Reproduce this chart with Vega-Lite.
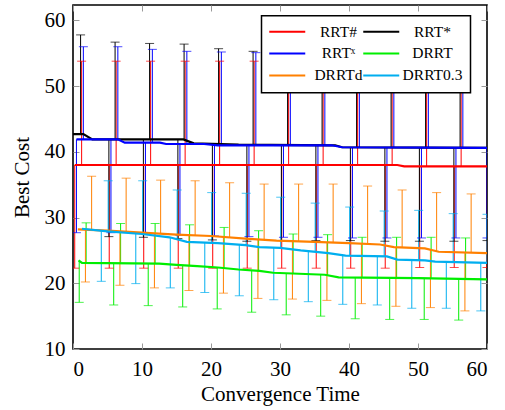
{
  "$schema": "https://vega.github.io/schema/vega-lite/v6.json",
  "width": 414,
  "height": 344,
  "autosize": {"type": "none"},
  "padding": {"left": 73, "top": 5, "right": 18, "bottom": 61},
  "background": "white",
  "config": {
    "view": {"stroke": "black", "strokeWidth": 1.6},
    "font": "Liberation Serif",
    "axis": {
      "domain": false, "grid": false,
      "tickColor": "#9a9a9a", "tickWidth": 1, "tickSize": -6,
      "labelFont": "Liberation Serif", "labelFontSize": 21, "labelColor": "black",
      "titleFont": "Liberation Serif", "titleFontSize": 21, "titleFontWeight": "normal", "titleColor": "black"
    },
    "legend": {
      "orient": "none", "legendX": 188.5, "legendY": 10.7, "columns": 2, "title": null,
      "symbolType": "M-3,0H3", "symbolSize": 144, "symbolStrokeWidth": 2, "symbolOffset": 10,
      "labelFont": "Liberation Serif", "labelFontSize": 15.5, "labelColor": "black",
      "labelAlign": "center", "labelOffset": 43.5, "columnPadding": -5, "rowPadding": 5,
      "padding": 8, "strokeColor": "black", "fillColor": "white"
    }
  },
  "datasets": {
    "lines": [
      {"s": "RRT#", "x": 0.25, "y": 38.0}, {"s": "RRT#", "x": 47.0, "y": 38.0}, {"s": "RRT#", "x": 48.0, "y": 37.8}, {"s": "RRT#", "x": 60, "y": 37.8},
      {"s": "RRT*", "x": 0, "y": 42.7}, {"s": "RRT*", "x": 1.5, "y": 42.7}, {"s": "RRT*", "x": 2.8, "y": 41.9}, {"s": "RRT*", "x": 16.0, "y": 41.9}, {"s": "RRT*", "x": 17.5, "y": 41.3}, {"s": "RRT*", "x": 24, "y": 41.1}, {"s": "RRT*", "x": 38, "y": 41.0}, {"s": "RRT*", "x": 39, "y": 40.7}, {"s": "RRT*", "x": 60, "y": 40.6},
      {"s": "RRTX", "x": 0.5, "y": 41.9}, {"s": "RRTX", "x": 6.5, "y": 41.9}, {"s": "RRTX", "x": 7.5, "y": 41.4}, {"s": "RRTX", "x": 12.6, "y": 41.4}, {"s": "RRTX", "x": 13.5, "y": 41.2}, {"s": "RRTX", "x": 19, "y": 41.2}, {"s": "RRTX", "x": 21, "y": 41.0}, {"s": "RRTX", "x": 37.5, "y": 41.0}, {"s": "RRTX", "x": 39, "y": 40.7}, {"s": "RRTX", "x": 60, "y": 40.6},
      {"s": "DRRT", "x": 0.8, "y": 23.5}, {"s": "DRRT", "x": 1.3, "y": 23.1}, {"s": "DRRT", "x": 12.5, "y": 23.0}, {"s": "DRRT", "x": 15, "y": 22.8}, {"s": "DRRT", "x": 18, "y": 22.6}, {"s": "DRRT", "x": 21, "y": 22.4}, {"s": "DRRT", "x": 24, "y": 22.1}, {"s": "DRRT", "x": 27, "y": 21.9}, {"s": "DRRT", "x": 29, "y": 21.6}, {"s": "DRRT", "x": 36.5, "y": 21.3}, {"s": "DRRT", "x": 38.5, "y": 20.9}, {"s": "DRRT", "x": 50, "y": 20.8}, {"s": "DRRT", "x": 60, "y": 20.6},
      {"s": "DRRTd", "x": 0.7, "y": 28.2}, {"s": "DRRTd", "x": 5, "y": 28.0}, {"s": "DRRTd", "x": 10, "y": 27.7}, {"s": "DRRTd", "x": 15, "y": 27.4}, {"s": "DRRTd", "x": 20, "y": 27.2}, {"s": "DRRTd", "x": 25, "y": 26.8}, {"s": "DRRTd", "x": 29.5, "y": 26.5}, {"s": "DRRTd", "x": 35, "y": 26.3}, {"s": "DRRTd", "x": 40, "y": 26.1}, {"s": "DRRTd", "x": 44.5, "y": 25.9}, {"s": "DRRTd", "x": 46.5, "y": 25.5}, {"s": "DRRTd", "x": 51, "y": 25.3}, {"s": "DRRTd", "x": 53, "y": 24.8}, {"s": "DRRTd", "x": 60, "y": 24.6},
      {"s": "DRRT0.3", "x": 1.3, "y": 28.3}, {"s": "DRRT0.3", "x": 5, "y": 27.9}, {"s": "DRRT0.3", "x": 10, "y": 27.5}, {"s": "DRRT0.3", "x": 14, "y": 27.0}, {"s": "DRRT0.3", "x": 16.5, "y": 26.3}, {"s": "DRRT0.3", "x": 21, "y": 26.1}, {"s": "DRRT0.3", "x": 25, "y": 25.8}, {"s": "DRRT0.3", "x": 27, "y": 25.5}, {"s": "DRRT0.3", "x": 30, "y": 25.4}, {"s": "DRRT0.3", "x": 33, "y": 25.0}, {"s": "DRRT0.3", "x": 37, "y": 24.6}, {"s": "DRRT0.3", "x": 39.5, "y": 24.2}, {"s": "DRRT0.3", "x": 45.5, "y": 24.1}, {"s": "DRRT0.3", "x": 47, "y": 23.6}, {"s": "DRRT0.3", "x": 51, "y": 23.5}, {"s": "DRRT0.3", "x": 52.5, "y": 23.3}, {"s": "DRRT0.3", "x": 60, "y": 23.1}
    ],
    "bars": [
      {"s": "RRT#", "x": 1.25, "m": 38, "e": 53.8}, {"s": "RRT#", "x": 6.25, "m": 38, "e": 53.8}, {"s": "RRT#", "x": 11.25, "m": 38, "e": 53.8}, {"s": "RRT#", "x": 16.25, "m": 38, "e": 53.8}, {"s": "RRT#", "x": 21.25, "m": 38, "e": 53.8}, {"s": "RRT#", "x": 26.25, "m": 38, "e": 53.8}, {"s": "RRT#", "x": 31.25, "m": 38, "e": 53.8}, {"s": "RRT#", "x": 36.25, "m": 38, "e": 53.8}, {"s": "RRT#", "x": 41.25, "m": 38, "e": 53.8}, {"s": "RRT#", "x": 46.25, "m": 38, "e": 53.8}, {"s": "RRT#", "x": 51.25, "m": 37.8, "e": 53.7}, {"s": "RRT#", "x": 56.25, "m": 37.8, "e": 53.7},
      {"s": "RRT#", "x": 0.25, "m": 38, "e": 22.3}, {"s": "RRT#", "x": 5.25, "m": 38, "e": 22.3}, {"s": "RRT#", "x": 10.25, "m": 38, "e": 22.3}, {"s": "RRT#", "x": 15.25, "m": 38, "e": 22.3}, {"s": "RRT#", "x": 20.25, "m": 38, "e": 22.3}, {"s": "RRT#", "x": 25.25, "m": 38, "e": 22.3}, {"s": "RRT#", "x": 30.25, "m": 38, "e": 22.3}, {"s": "RRT#", "x": 35.25, "m": 38, "e": 22.3}, {"s": "RRT#", "x": 40.25, "m": 38, "e": 22.3}, {"s": "RRT#", "x": 45.25, "m": 38, "e": 22.3}, {"s": "RRT#", "x": 50.25, "m": 37.8, "e": 22.4}, {"s": "RRT#", "x": 55.25, "m": 37.8, "e": 22.4}, {"s": "RRT#", "x": 60, "m": 37.8, "e": 22.4},
      {"s": "RRT*", "x": 1.1, "m": 42.7, "e": 57.8}, {"s": "RRT*", "x": 6.1, "m": 41.9, "e": 56.7}, {"s": "RRT*", "x": 11.1, "m": 41.9, "e": 56.5}, {"s": "RRT*", "x": 16.1, "m": 41.9, "e": 56.4}, {"s": "RRT*", "x": 21.1, "m": 41.2, "e": 55.7}, {"s": "RRT*", "x": 26.1, "m": 41.1, "e": 55.3}, {"s": "RRT*", "x": 31.1, "m": 41.05, "e": 55.2}, {"s": "RRT*", "x": 36.1, "m": 41.0, "e": 55.1}, {"s": "RRT*", "x": 41.1, "m": 40.7, "e": 55.0}, {"s": "RRT*", "x": 46.1, "m": 40.7, "e": 55.0}, {"s": "RRT*", "x": 51.1, "m": 40.65, "e": 54.9}, {"s": "RRT*", "x": 56.1, "m": 40.6, "e": 54.9},
      {"s": "RRT*", "x": 5.2, "m": 41.9, "e": 27.1}, {"s": "RRT*", "x": 10.2, "m": 41.9, "e": 27.0}, {"s": "RRT*", "x": 15.2, "m": 41.9, "e": 26.8}, {"s": "RRT*", "x": 20.2, "m": 41.2, "e": 26.6}, {"s": "RRT*", "x": 25.2, "m": 41.1, "e": 26.4}, {"s": "RRT*", "x": 30.2, "m": 41.05, "e": 26.5}, {"s": "RRT*", "x": 35.2, "m": 41.0, "e": 26.5}, {"s": "RRT*", "x": 40.2, "m": 40.7, "e": 26.5}, {"s": "RRT*", "x": 45.2, "m": 40.7, "e": 26.4}, {"s": "RRT*", "x": 50.2, "m": 40.65, "e": 26.4}, {"s": "RRT*", "x": 55.2, "m": 40.6, "e": 26.4}, {"s": "RRT*", "x": 60, "m": 40.6, "e": 26.5},
      {"s": "RRTX", "x": 1.5, "m": 41.9, "e": 56.0}, {"s": "RRTX", "x": 6.5, "m": 41.9, "e": 56.0}, {"s": "RRTX", "x": 11.5, "m": 41.4, "e": 55.6}, {"s": "RRTX", "x": 16.5, "m": 41.2, "e": 55.3}, {"s": "RRTX", "x": 21.5, "m": 41.0, "e": 55.2}, {"s": "RRTX", "x": 26.5, "m": 41.0, "e": 55.1}, {"s": "RRTX", "x": 31.5, "m": 41.0, "e": 55.0}, {"s": "RRTX", "x": 36.5, "m": 41.0, "e": 55.0}, {"s": "RRTX", "x": 41.5, "m": 40.7, "e": 54.9}, {"s": "RRTX", "x": 46.5, "m": 40.7, "e": 54.9}, {"s": "RRTX", "x": 51.5, "m": 40.65, "e": 54.8}, {"s": "RRTX", "x": 56.5, "m": 40.6, "e": 54.8},
      {"s": "RRTX", "x": 0.5, "m": 41.9, "e": 27.7}, {"s": "RRTX", "x": 5.5, "m": 41.9, "e": 27.7}, {"s": "RRTX", "x": 10.5, "m": 41.4, "e": 27.5}, {"s": "RRTX", "x": 15.5, "m": 41.2, "e": 27.3}, {"s": "RRTX", "x": 20.5, "m": 41.05, "e": 27.2}, {"s": "RRTX", "x": 25.5, "m": 41.0, "e": 27.1}, {"s": "RRTX", "x": 30.5, "m": 41.0, "e": 27.0}, {"s": "RRTX", "x": 35.5, "m": 41.0, "e": 27.0}, {"s": "RRTX", "x": 40.5, "m": 40.7, "e": 26.9}, {"s": "RRTX", "x": 45.5, "m": 40.7, "e": 26.9}, {"s": "RRTX", "x": 50.5, "m": 40.65, "e": 26.9}, {"s": "RRTX", "x": 55.5, "m": 40.6, "e": 26.9}, {"s": "RRTX", "x": 60, "m": 40.6, "e": 26.9},
      {"s": "DRRT", "x": 1.9, "m": 23.1, "e": 29.2}, {"s": "DRRT", "x": 6.9, "m": 23.1, "e": 29.1}, {"s": "DRRT", "x": 11.9, "m": 23.0, "e": 29.1}, {"s": "DRRT", "x": 16.9, "m": 22.7, "e": 28.9}, {"s": "DRRT", "x": 21.9, "m": 22.3, "e": 28.5}, {"s": "DRRT", "x": 26.9, "m": 21.9, "e": 28.0}, {"s": "DRRT", "x": 31.9, "m": 21.5, "e": 27.5}, {"s": "DRRT", "x": 36.9, "m": 21.2, "e": 27.4}, {"s": "DRRT", "x": 41.9, "m": 20.85, "e": 27.0}, {"s": "DRRT", "x": 46.9, "m": 20.8, "e": 27.0}, {"s": "DRRT", "x": 51.9, "m": 20.75, "e": 27.0}, {"s": "DRRT", "x": 56.9, "m": 20.65, "e": 26.9},
      {"s": "DRRT", "x": 0.9, "m": 23.4, "e": 17.1}, {"s": "DRRT", "x": 5.9, "m": 23.1, "e": 16.7}, {"s": "DRRT", "x": 10.9, "m": 23.0, "e": 16.6}, {"s": "DRRT", "x": 15.9, "m": 22.7, "e": 16.4}, {"s": "DRRT", "x": 20.9, "m": 22.4, "e": 16.1}, {"s": "DRRT", "x": 25.9, "m": 22.0, "e": 15.6}, {"s": "DRRT", "x": 30.9, "m": 21.5, "e": 15.2}, {"s": "DRRT", "x": 35.9, "m": 21.3, "e": 15.0}, {"s": "DRRT", "x": 40.9, "m": 20.85, "e": 14.6}, {"s": "DRRT", "x": 45.9, "m": 20.8, "e": 14.5}, {"s": "DRRT", "x": 50.9, "m": 20.8, "e": 14.5}, {"s": "DRRT", "x": 55.9, "m": 20.7, "e": 14.4},
      {"s": "DRRTd", "x": 2.7, "m": 28.1, "e": 36.3}, {"s": "DRRTd", "x": 7.7, "m": 27.85, "e": 36.0}, {"s": "DRRTd", "x": 12.7, "m": 27.55, "e": 35.7}, {"s": "DRRTd", "x": 17.7, "m": 27.3, "e": 35.6}, {"s": "DRRTd", "x": 22.7, "m": 27.0, "e": 35.3}, {"s": "DRRTd", "x": 27.7, "m": 26.6, "e": 35.1}, {"s": "DRRTd", "x": 32.7, "m": 26.4, "e": 35.1}, {"s": "DRRTd", "x": 37.7, "m": 26.2, "e": 35.1}, {"s": "DRRTd", "x": 42.7, "m": 26.0, "e": 34.8}, {"s": "DRRTd", "x": 47.7, "m": 25.45, "e": 34.2}, {"s": "DRRTd", "x": 52.7, "m": 24.9, "e": 33.8}, {"s": "DRRTd", "x": 57.7, "m": 24.7, "e": 33.6},
      {"s": "DRRTd", "x": 1.8, "m": 28.15, "e": 20.2}, {"s": "DRRTd", "x": 6.8, "m": 27.9, "e": 19.7}, {"s": "DRRTd", "x": 11.8, "m": 27.6, "e": 19.3}, {"s": "DRRTd", "x": 16.8, "m": 27.3, "e": 18.9}, {"s": "DRRTd", "x": 21.8, "m": 27.05, "e": 18.5}, {"s": "DRRTd", "x": 26.8, "m": 26.7, "e": 17.7}, {"s": "DRRTd", "x": 31.8, "m": 26.4, "e": 17.6}, {"s": "DRRTd", "x": 36.8, "m": 26.25, "e": 17.4}, {"s": "DRRTd", "x": 41.8, "m": 26.0, "e": 16.9}, {"s": "DRRTd", "x": 46.8, "m": 25.5, "e": 16.5}, {"s": "DRRTd", "x": 51.8, "m": 25.1, "e": 16.3}, {"s": "DRRTd", "x": 56.8, "m": 24.7, "e": 15.8},
      {"s": "DRRT0.3", "x": 5.1, "m": 27.9, "e": 35.6}, {"s": "DRRT0.3", "x": 10.1, "m": 27.5, "e": 35.6}, {"s": "DRRT0.3", "x": 15.1, "m": 26.8, "e": 34.2}, {"s": "DRRT0.3", "x": 20.1, "m": 26.15, "e": 33.8}, {"s": "DRRT0.3", "x": 25.1, "m": 25.8, "e": 33.7}, {"s": "DRRT0.3", "x": 30.1, "m": 25.4, "e": 33.1}, {"s": "DRRT0.3", "x": 35.1, "m": 24.8, "e": 32.2}, {"s": "DRRT0.3", "x": 40.1, "m": 24.2, "e": 31.6}, {"s": "DRRT0.3", "x": 45.1, "m": 24.1, "e": 31.0}, {"s": "DRRT0.3", "x": 50.1, "m": 23.5, "e": 31.1}, {"s": "DRRT0.3", "x": 55.1, "m": 23.25, "e": 30.6}, {"s": "DRRT0.3", "x": 60, "m": 23.1, "e": 30.5},
      {"s": "DRRT0.3", "x": 4.1, "m": 28.0, "e": 20.3}, {"s": "DRRT0.3", "x": 9.1, "m": 27.6, "e": 19.95}, {"s": "DRRT0.3", "x": 14.1, "m": 27.0, "e": 19.3}, {"s": "DRRT0.3", "x": 19.1, "m": 26.2, "e": 18.6}, {"s": "DRRT0.3", "x": 24.1, "m": 25.9, "e": 18.1}, {"s": "DRRT0.3", "x": 29.1, "m": 25.4, "e": 17.5}, {"s": "DRRT0.3", "x": 34.1, "m": 24.9, "e": 17.2}, {"s": "DRRT0.3", "x": 39.1, "m": 24.3, "e": 16.8}, {"s": "DRRT0.3", "x": 44.1, "m": 24.1, "e": 16.7}, {"s": "DRRT0.3", "x": 49.1, "m": 23.55, "e": 16.2}, {"s": "DRRT0.3", "x": 54.1, "m": 23.25, "e": 16.2}, {"s": "DRRT0.3", "x": 59.1, "m": 23.1, "e": 15.8}
    ]
  },
  "layer": [
    {
      "data": {"name": "bars"},
      "mark": {"type": "rule", "strokeWidth": 1, "clip": true},
      "encoding": {
        "x": {"field": "x", "type": "quantitative", "scale": {"domain": [0, 60], "nice": false, "zero": false}, "axis": null},
        "y": {"field": "m", "type": "quantitative", "scale": {"domain": [10, 62.35], "nice": false, "zero": false}, "axis": null},
        "y2": {"field": "e"},
        "color": {
          "field": "s", "type": "nominal",
          "scale": {"domain": ["RRT#", "RRTX", "DRRTd", "RRT*", "DRRT", "DRRT0.3"], "range": ["#ff0000", "#0000ff", "#ff8000", "#000000", "#00ee00", "#00aeef"]},
          "legend": {"labelExpr": "datum.label == 'RRTX' ? 'RRTˣ' : datum.label", "encode": {"legend": {"update": {"strokeWidth": {"value": 1.5}}}}}
        }
      }
    },
    {
      "data": {"name": "bars"},
      "mark": {"type": "tick", "orient": "horizontal", "size": 9, "thickness": 1, "clip": true},
      "encoding": {
        "x": {"field": "x", "type": "quantitative", "axis": {"orient": "top", "values": [0, 10, 20, 30, 40, 50, 60], "labels": false, "title": null}},
        "y": {"field": "e", "type": "quantitative", "axis": {"orient": "right", "values": [10, 20, 30, 40, 50, 60], "labels": false, "title": null}},
        "color": {"field": "s", "type": "nominal"}
      }
    },
    {
      "data": {"name": "lines"},
      "mark": {"type": "line", "strokeWidth": 2.2, "clip": true},
      "encoding": {
        "x": {"field": "x", "type": "quantitative", "axis": {"orient": "bottom", "values": [0, 10, 20, 30, 40, 50, 60], "labelPadding": 15, "labelFont": "Liberation Serif", "labelFontSize": 21, "title": "Convergence Time", "titlePadding": 4}},
        "y": {"field": "y", "type": "quantitative", "axis": {"orient": "left", "values": [10, 20, 30, 40, 50, 60], "labelPadding": 14, "labelFont": "Liberation Serif", "labelFontSize": 21, "title": "Best Cost", "titlePadding": 12}},
        "color": {"field": "s", "type": "nominal"}
      }
    }
  ],
  "resolve": {"axis": {"x": "independent", "y": "independent"}}
}
